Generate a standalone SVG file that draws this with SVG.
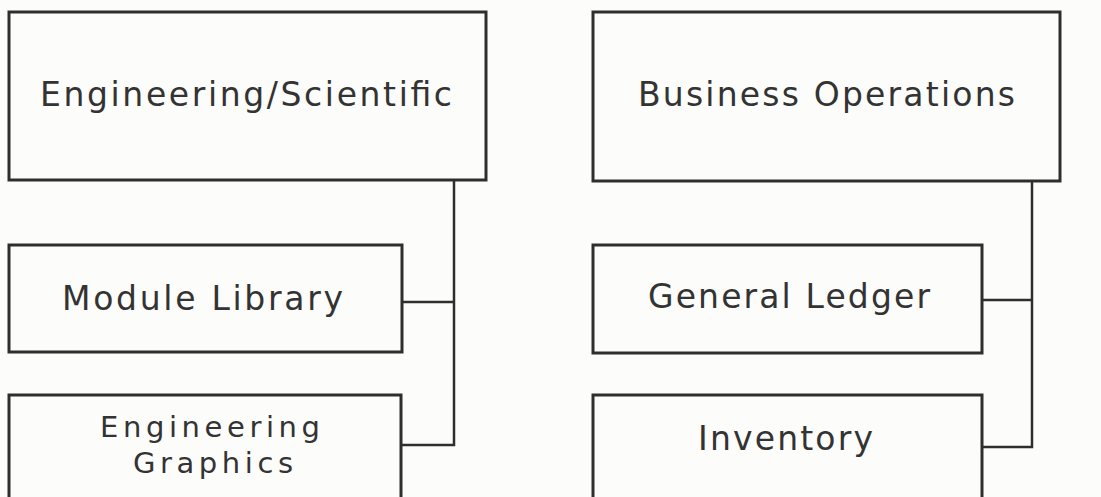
<svg xmlns="http://www.w3.org/2000/svg" width="1101" height="497" viewBox="0 0 1101 497">
<style>
.box{fill:none;stroke:#2e2e2e;stroke-width:3}
.ln{fill:none;stroke:#2e2e2e;stroke-width:2.5}
.t{font-family:"DejaVu Sans","Liberation Sans",sans-serif;font-size:33px;fill:#333;text-anchor:start}
.s{font-size:29px}
</style>
<rect width="1101" height="497" fill="#fcfcfa"/>
<g id="engsci"><rect class="box" x="9" y="12" width="477" height="168"/><text class="t" x="40" y="106" textLength="412" lengthAdjust="spacing">Engineering/Scientific</text></g>
<g id="busops"><rect class="box" x="593" y="12" width="467" height="169"/><text class="t" x="638" y="106" textLength="377" lengthAdjust="spacing">Business Operations</text></g>
<g id="modlib"><rect class="box" x="9" y="245" width="393" height="107"/><text class="t" x="62" y="310" textLength="281" lengthAdjust="spacing">Module Library</text></g>
<g id="enggfx"><rect class="box" x="9" y="395" width="392" height="110"/><text class="t s" x="100" y="437" textLength="220" lengthAdjust="spacing">Engineering</text><text class="t s" x="133" y="473" textLength="160" lengthAdjust="spacing">Graphics</text></g>
<g id="genled"><rect class="box" x="593" y="245" width="389" height="108"/><text class="t" x="648" y="308" textLength="282" lengthAdjust="spacing">General Ledger</text></g>
<g id="inv"><rect class="box" x="593" y="395" width="389" height="110"/><text class="t" x="698" y="450" textLength="175" lengthAdjust="spacing">Inventory</text></g>
<g id="connectors">
<path class="ln" d="M454 180 V445 H402 M454 302 H402"/>
<path class="ln" d="M1032 181 V447 H982 M1032 300 H982"/>
</g>
</svg>
